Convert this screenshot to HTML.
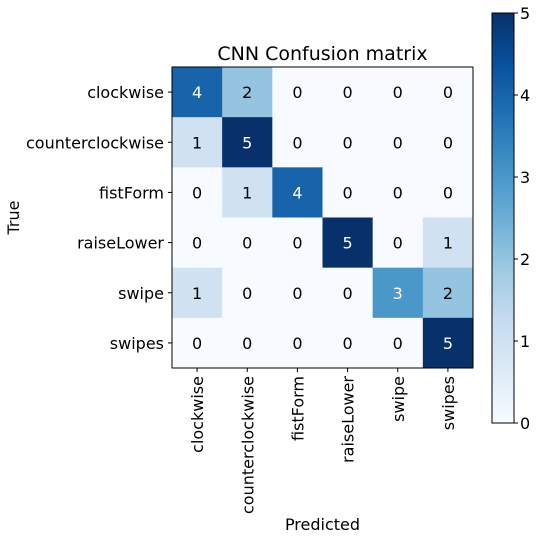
<!DOCTYPE html>
<html><head><meta charset="utf-8"><style>
html,body{margin:0;padding:0;background:#fff;}
svg text{font-family:"DejaVu Sans","Liberation Sans",sans-serif;}
</style></head><body>
<svg id="c" width="537" height="540" xmlns="http://www.w3.org/2000/svg">
<defs><linearGradient id="cb" x1="0" y1="1" x2="0" y2="0">
<stop offset="0" stop-color="#f7fbff"/><stop offset="0.125" stop-color="#deebf7"/><stop offset="0.25" stop-color="#c6dbef"/><stop offset="0.375" stop-color="#9ecae1"/><stop offset="0.5" stop-color="#6baed6"/><stop offset="0.625" stop-color="#4292c6"/><stop offset="0.75" stop-color="#2171b5"/><stop offset="0.875" stop-color="#08519c"/><stop offset="1" stop-color="#08306b"/></linearGradient></defs>
</svg>
<script>
const labels=["clockwise","counterclockwise","fistForm","raiseLower","swipe","swipes"];
const matrix=[[4,2,0,0,0,0],[1,5,0,0,0,0],[0,1,4,0,0,0],[0,0,0,5,0,1],[1,0,0,0,3,2],[0,0,0,0,0,5]];
const cbTicks=[0,1,2,3,4,5];
const vmax=5;
const NS="http://www.w3.org/2000/svg";
const svg=document.getElementById('c');
const L=172,T=67,S=301,n=labels.length,cw=S/n;
const stops=[[247,251,255],[222,235,247],[198,219,239],[158,202,225],[107,174,214],[66,146,198],[33,113,181],[8,81,156],[8,48,107]];
function color(v){let t=Math.max(0,Math.min(1,v/vmax))*8;let i=Math.min(7,Math.floor(t)),f=t-i;
 const a=stops[i],b=stops[i+1];return `rgb(${a.map((x,k)=>Math.round(x+(b[k]-x)*f)).join(',')})`;}
function el(tag,attrs,txt){const e=document.createElementNS(NS,tag);for(const k in attrs)e.setAttribute(k,attrs[k]);if(txt!==undefined)e.textContent=txt;svg.appendChild(e);return e;}
const xs=i=>L+cw*(i+0.5);
for(let r=0;r<n;r++)for(let c=0;c<n;c++){
 const v=matrix[r][c];
 const rc=el('rect',{x:L+cw*c,y:T+cw*r,width:cw+0.5,height:cw+0.5,fill:color(v)});
 
 
 const tx=el('text',{x:xs(c),y:T+cw*(r+0.5)+6,'text-anchor':'middle','font-size':16,fill:v>vmax/2?'#fff':'#000'},v);
 
 
}
const fr=el('rect',{x:L,y:T,width:S,height:S,fill:'none',stroke:'#000','stroke-width':1});


labels.forEach((lab,i)=>{
 const y=T+cw*(i+0.5);
 el('line',{x1:L-4,x2:L,y1:y,y2:y,stroke:'#000'});
 const yl=el('text',{x:L-8,y:y+6,'text-anchor':'end','font-size':16},lab);
 
 
 const x=xs(i);
 el('line',{x1:x,x2:x,y1:T+S,y2:T+S+4,stroke:'#000'});
 const xl=el('text',{x:0,y:0,'text-anchor':'end','font-size':16,transform:`translate(${x+6},${T+S+8}) rotate(-90)`},lab);
 
 
});
const ti=el('text',{x:L+S/2,y:60,'text-anchor':'middle','font-size':19},'CNN Confusion matrix');


const yt=el('text',{x:0,y:0,'text-anchor':'middle','font-size':16,transform:`translate(19,${T+S/2}) rotate(-90)`},'True');


const xt=el('text',{x:L+S/2,y:530,'text-anchor':'middle','font-size':16},'Predicted');


const CL=492,CW=22,CT=13,CB=423;
const cb=el('rect',{x:CL,y:CT,width:CW,height:CB-CT,fill:'url(#cb)',stroke:'#000','stroke-width':1});


cbTicks.forEach(t=>{
 const y=CB-(CB-CT)*t/vmax;
 el('line',{x1:CL+CW,x2:CL+CW+4,y1:y,y2:y,stroke:'#000'});
 const tl=el('text',{x:CL+CW+6,y:y+6,'font-size':16},t);
 
 
});
</script>
</body></html>
